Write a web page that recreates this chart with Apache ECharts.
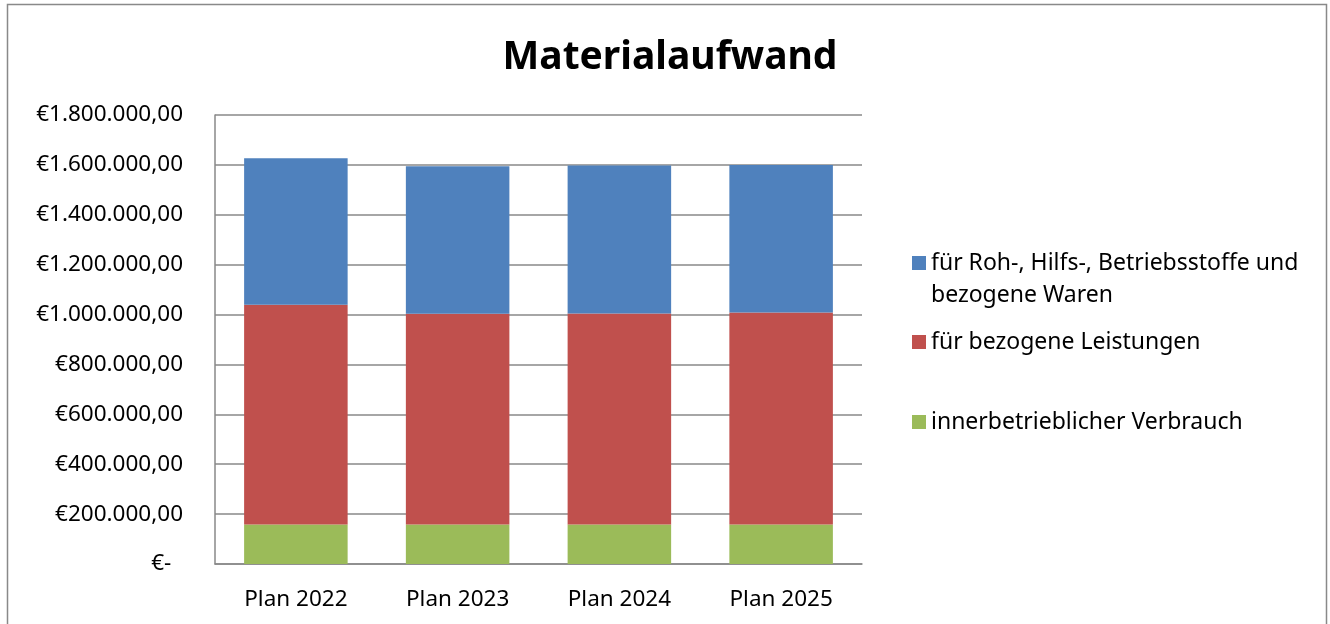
<!DOCTYPE html>
<html>
<head>
<meta charset="utf-8">
<script src="https://cdn.jsdelivr.net/npm/echarts@6/dist/echarts.min.js"></script>
<style>
html,body{margin:0;padding:0;background:#fff;}
#main{width:1330px;height:624px;}
</style>
</head>
<body>
<div id="main"></div>
<script>
// Daten
var categories = ['Plan 2022', 'Plan 2023', 'Plan 2024', 'Plan 2025'];
var verbrauch = [158000, 158000, 158000, 158000];       // innerbetrieblicher Verbrauch
var leistungen = [881000, 845000, 846000, 850000];      // für bezogene Leistungen
var waren = [588000, 592000, 594000, 592000];           // für Roh-, Hilfs-, Betriebsstoffe und bezogene Waren
var seriesNames = [
    'innerbetrieblicher Verbrauch',
    'für bezogene Leistungen',
    'für Roh-, Hilfs-, Betriebsstoffe und bezogene Waren'
];

var font = 'Noto Sans';

function euro(v) {
    if (v === 0) return '€-  ';
    var s = v.toFixed(0).replace(/\B(?=(\d{3})+(?!\d))/g, '.');
    return '€' + s + ',00';
}

var legendText = {
    color: '#000',
    fontFamily: font,
    fontSize: 23,
    lineHeight: 32
};

var option = {
    animation: false,
    color: ['#9BBB59', '#C0504D', '#4F81BD'],
    title: {
        text: 'Materialaufwand',
        left: 665,
        textAlign: 'center',
        top: 33,
        textStyle: {
            fontFamily: font,
            fontSize: 39,
            fontWeight: 'bold',
            color: '#000'
        }
    },
    graphic: [{
        type: 'rect',
        shape: {x: 7.5, y: 4.5, width: 1319, height: 630},
        style: {fill: 'none', stroke: '#898989', lineWidth: 1.5},
        silent: true
    }],
    legend: [
        {
            // zweizeiliger Eintrag, Icon auf der ersten Zeile
            data: [seriesNames[2]],
            orient: 'vertical',
            left: 907,
            top: 242,
            itemWidth: 14,
            itemHeight: 46,
            icon: 'path://M0,0H14V14H0Z M0,46L0.01,46',
            itemStyle: {borderWidth: 0},
            formatter: function () {
                return 'für Roh-, Hilfs-, Betriebsstoffe und\nbezogene Waren';
            },
            textStyle: legendText
        },
        {
            data: [seriesNames[1]],
            left: 907,
            top: 321,
            itemWidth: 14,
            itemHeight: 14,
            icon: 'rect',
            textStyle: legendText
        },
        {
            data: [seriesNames[0]],
            left: 907,
            top: 401,
            itemWidth: 14,
            itemHeight: 14,
            icon: 'rect',
            textStyle: legendText
        }
    ],
    grid: {
        left: 215,
        right: 468,
        top: 115,
        bottom: 60,
        containLabel: false
    },
    xAxis: {
        type: 'category',
        data: categories,
        axisTick: {show: false},
        axisLine: {lineStyle: {color: '#898989', width: 1.5}},
        axisLabel: {
            color: '#000',
            fontFamily: font,
            fontSize: 22.5,
            margin: 24
        }
    },
    yAxis: {
        type: 'value',
        min: 0,
        max: 1800000,
        interval: 200000,
        axisLine: {show: true, lineStyle: {color: '#898989', width: 1.5}},
        axisTick: {show: false},
        splitLine: {lineStyle: {color: '#898989', width: 1.5}},
        axisLabel: {
            color: '#000',
            fontFamily: font,
            fontSize: 22.5,
            margin: 32,
            formatter: euro
        }
    },
    series: [
        {name: seriesNames[0], type: 'bar', stack: 'total', data: verbrauch, barCategoryGap: '36%'},
        {name: seriesNames[1], type: 'bar', stack: 'total', data: leistungen, barCategoryGap: '36%'},
        {name: seriesNames[2], type: 'bar', stack: 'total', data: waren, barCategoryGap: '36%'}
    ]
};

var myChart = echarts.init(document.getElementById('main'));
myChart.setOption(option);
</script>
</body>
</html>
